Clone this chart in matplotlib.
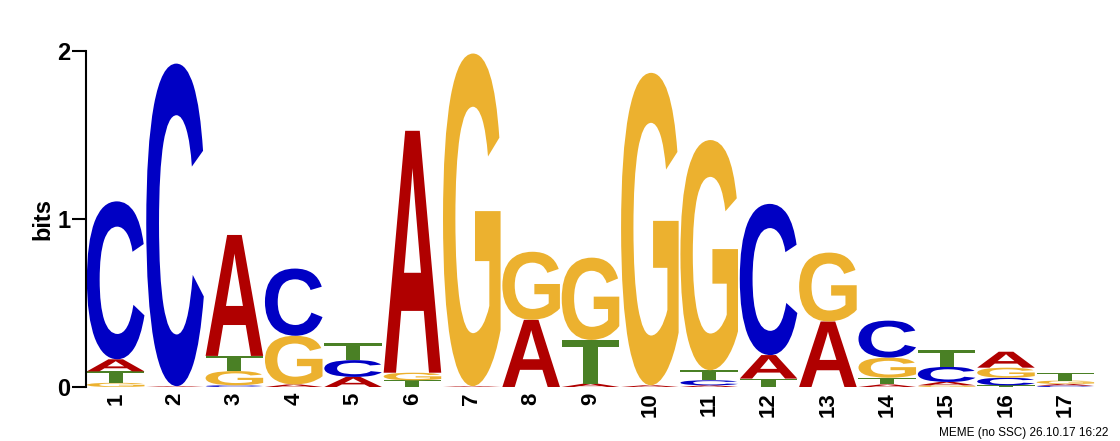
import numpy as np
import matplotlib
matplotlib.use("Agg")
import matplotlib.pyplot as plt
from matplotlib.textpath import TextPath
from matplotlib.patches import PathPatch
from matplotlib.font_manager import FontProperties
from matplotlib.transforms import Affine2D

# information content (bits) of each base at each motif position
positions = list(range(1, 18))
bits_A = [0.072, 0.005, 0.72, 0.015, 0.06, 1.44, 0.005, 0.40, 0.02, 0.01, 0.01, 0.14, 0.39, 0.015, 0.02, 0.095, 0.01]
bits_C = [0.94, 1.92, 0.01, 0.40, 0.10, 0.00, 0.00, 0.00, 0.00, 0.00, 0.03, 0.90, 0.00, 0.22, 0.09, 0.045, 0.008]
bits_G = [0.025, 0.0, 0.085, 0.29, 0.00, 0.045, 1.98, 0.405, 0.49, 1.86, 1.37, 0.00, 0.41, 0.12, 0.01, 0.06, 0.02]
bits_T = [0.068, 0.0, 0.09, 0.00, 0.10, 0.04, 0.00, 0.00, 0.26, 0.00, 0.06, 0.05, 0.00, 0.04, 0.10, 0.01, 0.045]
footer = "MEME (no SSC) 26.10.17 16:22"

colors = {"A": "#b00000", "C": "#0000c4", "G": "#ecb12f", "T": "#4a8025"}
heights = {"A": bits_A, "C": bits_C, "G": bits_G, "T": bits_T}

fp = FontProperties(family="Liberation Sans", weight="bold")
glyphs = {}
for b in "ACGT":
    p = TextPath((0, 0), b, size=1, prop=fp)
    glyphs[b] = p


def draw_letter(ax, base, x, y, w, h):
    p = glyphs[base]
    ext = p.get_extents()
    t = (Affine2D()
         .translate(-ext.x0, -ext.y0)
         .scale(w / ext.width, h / ext.height)
         .translate(x - w / 2, y))
    ax.add_patch(PathPatch(t.transform_path(p), facecolor=colors[base],
                           edgecolor="none", transform=ax.transData))


fig = plt.figure(figsize=(11.2, 4.41), dpi=100)
ax = fig.add_axes([86 / 1120, 54 / 441, (1095 - 86) / 1120, 336 / 441])

for i, pos in enumerate(positions):
    stack = sorted("ACGT", key=lambda b: heights[b][i])
    y = 0.0
    for b in stack:
        h = heights[b][i]
        if h > 0:
            draw_letter(ax, b, pos, y, 0.97, h)
            y += h

ax.set_xlim(0.5, 17.5)
ax.set_ylim(0, 2)
for s in ["top", "right", "bottom"]:
    ax.spines[s].set_visible(False)
ax.spines["left"].set_bounds(0, 2)
ax.spines["left"].set_linewidth(1.5)

ax.set_yticks([0, 1, 2])
ax.set_yticklabels(["0", "1", "2"], fontsize=17, fontweight="bold",
                   family="Liberation Sans")
ax.tick_params(axis="y", length=10, width=1.5, pad=1)

ax.set_xticks(positions)
ax.set_xticklabels([str(p) for p in positions], rotation=90, fontsize=16,
                   fontweight="bold", family="Liberation Sans")
ax.tick_params(axis="x", length=0, pad=4)

ax.set_ylabel("bits", fontsize=17, fontweight="bold", family="Liberation Sans",
              labelpad=2)

fig.text(1108 / 1120, 1 - 433 / 441, footer, ha="right", va="center",
         fontsize=8.5, family="Liberation Sans")

fig.savefig("out.png", dpi=100)
